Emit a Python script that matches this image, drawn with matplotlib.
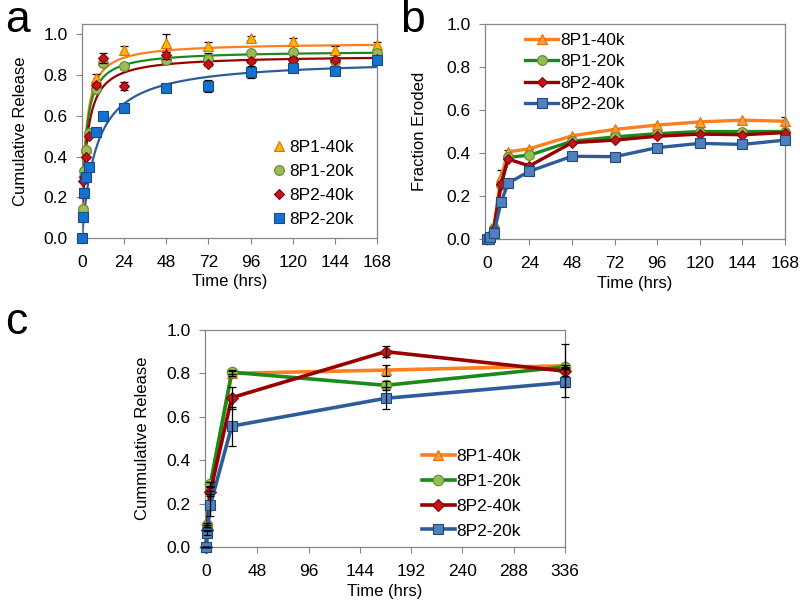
import numpy as np
import matplotlib.pyplot as plt

plt.rcParams['font.family'] = ['Liberation Sans', 'DejaVu Sans']
plt.rcParams['font.size'] = 12

names = ['8P1-40k', '8P1-20k', '8P2-40k', '8P2-20k']

# panel a: cumulative release (points + fitted curves)
t_a = [0, 0.5, 1, 2, 4, 8, 12, 24, 48, 72, 96, 120, 144, 168]
rel_a_p1_40 = [0, 0.15, 0.33, 0.44, 0.52, 0.787, 0.875, 0.922, 0.958, 0.943, 0.985, 0.967, 0.926, 0.947]
rel_a_p1_20 = [0, 0.14, 0.33, 0.43, 0.515, 0.73, 0.86, 0.847, 0.877, 0.88, 0.91, 0.915, 0.872, 0.91]
rel_a_p2_40 = [0, 0.28, 0.3, 0.4, 0.50, 0.75, 0.885, 0.745, 0.897, 0.855, 0.872, 0.877, 0.877, 0.88]
rel_a_p2_20 = [0, 0.105, 0.22, 0.30, 0.35, 0.52, 0.60, 0.64, 0.735, 0.745, 0.815, 0.835, 0.823, 0.877]
err_a_p1_40 = [0, 0, 0, 0, 0, 0.02, 0.01, 0.02, 0.045, 0.02, 0.01, 0.015, 0.015, 0.015]
err_a_p1_20 = [0, 0, 0, 0, 0, 0.01, 0.01, 0.01, 0.01, 0.03, 0.01, 0.01, 0.01, 0.01]
err_a_p2_40 = [0, 0, 0, 0, 0, 0.01, 0.025, 0.02, 0.015, 0.01, 0.01, 0.01, 0.01, 0.01]
err_a_p2_20 = [0, 0, 0, 0, 0, 0.01, 0.01, 0.01, 0.01, 0.03, 0.03, 0.02, 0.01, 0.01]
# fitted curve parameters (plateau, half-time in hrs)
fit_max = [0.96, 0.921, 0.898, 0.88]
fit_k = [2.0, 2.0, 2.5, 8.0]

# panel b: fraction eroded
t_b = [0, 1, 2, 4, 8, 12, 24, 48, 72, 96, 120, 144, 168]
ero_p1_40 = [0, 0.005, 0.015, 0.06, 0.29, 0.405, 0.42, 0.48, 0.51, 0.53, 0.545, 0.553, 0.548]
ero_p1_20 = [0, 0.005, 0.012, 0.05, 0.25, 0.38, 0.39, 0.455, 0.475, 0.49, 0.5, 0.5, 0.5]
ero_p2_40 = [0, 0.004, 0.01, 0.045, 0.255, 0.372, 0.34, 0.448, 0.46, 0.478, 0.488, 0.485, 0.495]
ero_p2_20 = [0, 0.002, 0.008, 0.03, 0.17, 0.26, 0.315, 0.385, 0.383, 0.425, 0.445, 0.44, 0.46]
err_b_p1_40 = [0, 0, 0, 0, 0.03, 0.01, 0, 0, 0, 0, 0, 0, 0.02]

# panel c: cumulative release, long term
t_c = [0, 1, 4, 24, 168, 336]
rel_c_p1_40 = [0, 0.1, 0.28, 0.80, 0.815, 0.835]
rel_c_p1_20 = [0, 0.10, 0.29, 0.805, 0.745, 0.83]
rel_c_p2_40 = [0, 0.08, 0.255, 0.688, 0.90, 0.81]
rel_c_p2_20 = [0, 0.065, 0.195, 0.557, 0.685, 0.758]
err_c_p1_40 = [0, 0, 0.02, 0.01, 0.025, 0.1]
err_c_p1_20 = [0, 0.01, 0.01, 0.01, 0.02, 0.01]
err_c_p2_40 = [0, 0, 0.02, 0.05, 0.025, 0.02]
err_c_p2_20 = [0, 0.01, 0.05, 0.09, 0.05, 0.065]

line_cols = ['#FF7F1E', '#1A8A1A', '#990000', '#2E5C9A']
face_cols = ['#FFA030', '#92C050', '#C0161B', '#4F81BD']
edge_cols = ['#E46C0A', '#5E8A2E', '#8B0000', '#1F497D']
face_a = ['#F8B800', '#9BBB59', '#C0161B', '#1372D0']
markers = ['^', 'o', 'D', 's']
msizes = [7, 7, 5.5, 7]
yticklabels = ['0.0', '0.2', '0.4', '0.6', '0.8', '1.0']


def style_axes(ax):
    for s in ax.spines.values():
        s.set_color('#868686')
        s.set_linewidth(0.9)
    ax.tick_params(direction='out', length=4.5, color='#868686', labelsize=12.5)
    ax.tick_params(axis='x', pad=8)
    ax.tick_params(axis='y', pad=6)


fig = plt.figure(figsize=(8, 6.02), dpi=100)

# ---- panel a
ax = fig.add_axes([0.1025, 0.6047, 0.3688, 0.3549])
tt = np.linspace(0, 168, 400)
for i in range(4):
    ax.plot(tt, fit_max[i] * tt / (fit_k[i] + tt), color=line_cols[i], lw=1.6, zorder=2)
series_a = [rel_a_p1_40, rel_a_p1_20, rel_a_p2_40, rel_a_p2_20]
errs_a = [err_a_p1_40, err_a_p1_20, err_a_p2_40, err_a_p2_20]
for i in range(4):
    ax.errorbar(t_a, series_a[i], yerr=errs_a[i], fmt='none', ecolor='black',
                elinewidth=0.9, capsize=3, capthick=0.9, zorder=3 + i, clip_on=False)
    ax.plot(t_a, series_a[i], ls='none', marker=markers[i], ms=msizes[i],
            mfc=face_a[i], mec=edge_cols[i], mew=0.8, label=names[i],
            zorder=3 + i, clip_on=False)
ax.set_xlim(0, 168)
ax.set_ylim(0, 1.05)
ax.set_xticks(range(0, 169, 24))
ax.set_yticks(np.arange(0, 1.01, 0.2))
ax.set_yticklabels(yticklabels)
ax.set_xlabel('Time (hrs)', labelpad=3)
ax.set_ylabel('Cumulative Release', labelpad=11)
style_axes(ax)
ax.legend(loc='center left', bbox_to_anchor=(0.615, 0.255), frameon=False,
          handlelength=0.8, handletextpad=0.2, labelspacing=0.5, borderpad=0,
          fontsize=12.5)

# ---- panel b
ax = fig.add_axes([0.6063, 0.603, 0.375, 0.357])
series_b = [ero_p1_40, ero_p1_20, ero_p2_40, ero_p2_20]
ax.errorbar(t_b, ero_p1_40, yerr=err_b_p1_40, fmt='none', ecolor='black',
            elinewidth=0.9, capsize=3, capthick=0.9, zorder=1)
for i in range(4):
    ax.plot(t_b, series_b[i], color=line_cols[i], lw=2.4, marker=markers[i],
            ms=msizes[i], mfc=face_cols[i], mec=edge_cols[i], mew=0.8,
            label=names[i], zorder=2 + i, clip_on=False)
ax.set_xlim(-1, 168)
ax.set_ylim(0, 1.0)
ax.set_xticks(range(0, 169, 24))
ax.set_yticks(np.arange(0, 1.01, 0.2))
ax.set_yticklabels(yticklabels)
ax.set_xlabel('Time (hrs)', labelpad=3)
ax.set_ylabel('Fraction Eroded', labelpad=14)
style_axes(ax)
ax.legend(loc='upper left', bbox_to_anchor=(0.105, 1.0), frameon=False,
          handlelength=1.9, handletextpad=0.1, labelspacing=0.36, borderpad=0,
          fontsize=12.5)

# ---- panel c
ax = fig.add_axes([0.2563, 0.0914, 0.45, 0.3605])
series_c = [rel_c_p1_40, rel_c_p1_20, rel_c_p2_40, rel_c_p2_20]
errs_c = [err_c_p1_40, err_c_p1_20, err_c_p2_40, err_c_p2_20]
for i in range(4):
    ax.errorbar(t_c, series_c[i], yerr=errs_c[i], fmt='none', ecolor='black',
                elinewidth=0.9, capsize=3, capthick=0.9, zorder=6, clip_on=False)
    ax.plot(t_c, series_c[i], color=line_cols[i], lw=2.6, marker=markers[i],
            ms=msizes[i] + 0.5, mfc=face_cols[i], mec=edge_cols[i], mew=0.8,
            label=names[i], zorder=2 + i, clip_on=False)
ax.set_xlim(-1, 336)
ax.set_ylim(0, 1.0)
ax.set_xticks(range(0, 337, 48))
ax.set_yticks(np.arange(0, 1.01, 0.2))
ax.set_yticklabels(yticklabels)
ax.set_xlabel('Time (hrs)', labelpad=3)
ax.set_ylabel('Cummulative Release', labelpad=12)
style_axes(ax)
ax.legend(loc='upper left', bbox_to_anchor=(0.578, 0.49), frameon=False,
          handlelength=1.9, handletextpad=0.1, labelspacing=0.55, borderpad=0,
          fontsize=12.5)

# panel letters
fig.text(0.006, 1.0, 'a', fontsize=32, va='top')
fig.text(0.5, 1.0, 'b', fontsize=32, va='top')
fig.text(0.006, 1 - 302 / 602, 'c', fontsize=32, va='top')

fig.savefig('out.png', dpi=100)
